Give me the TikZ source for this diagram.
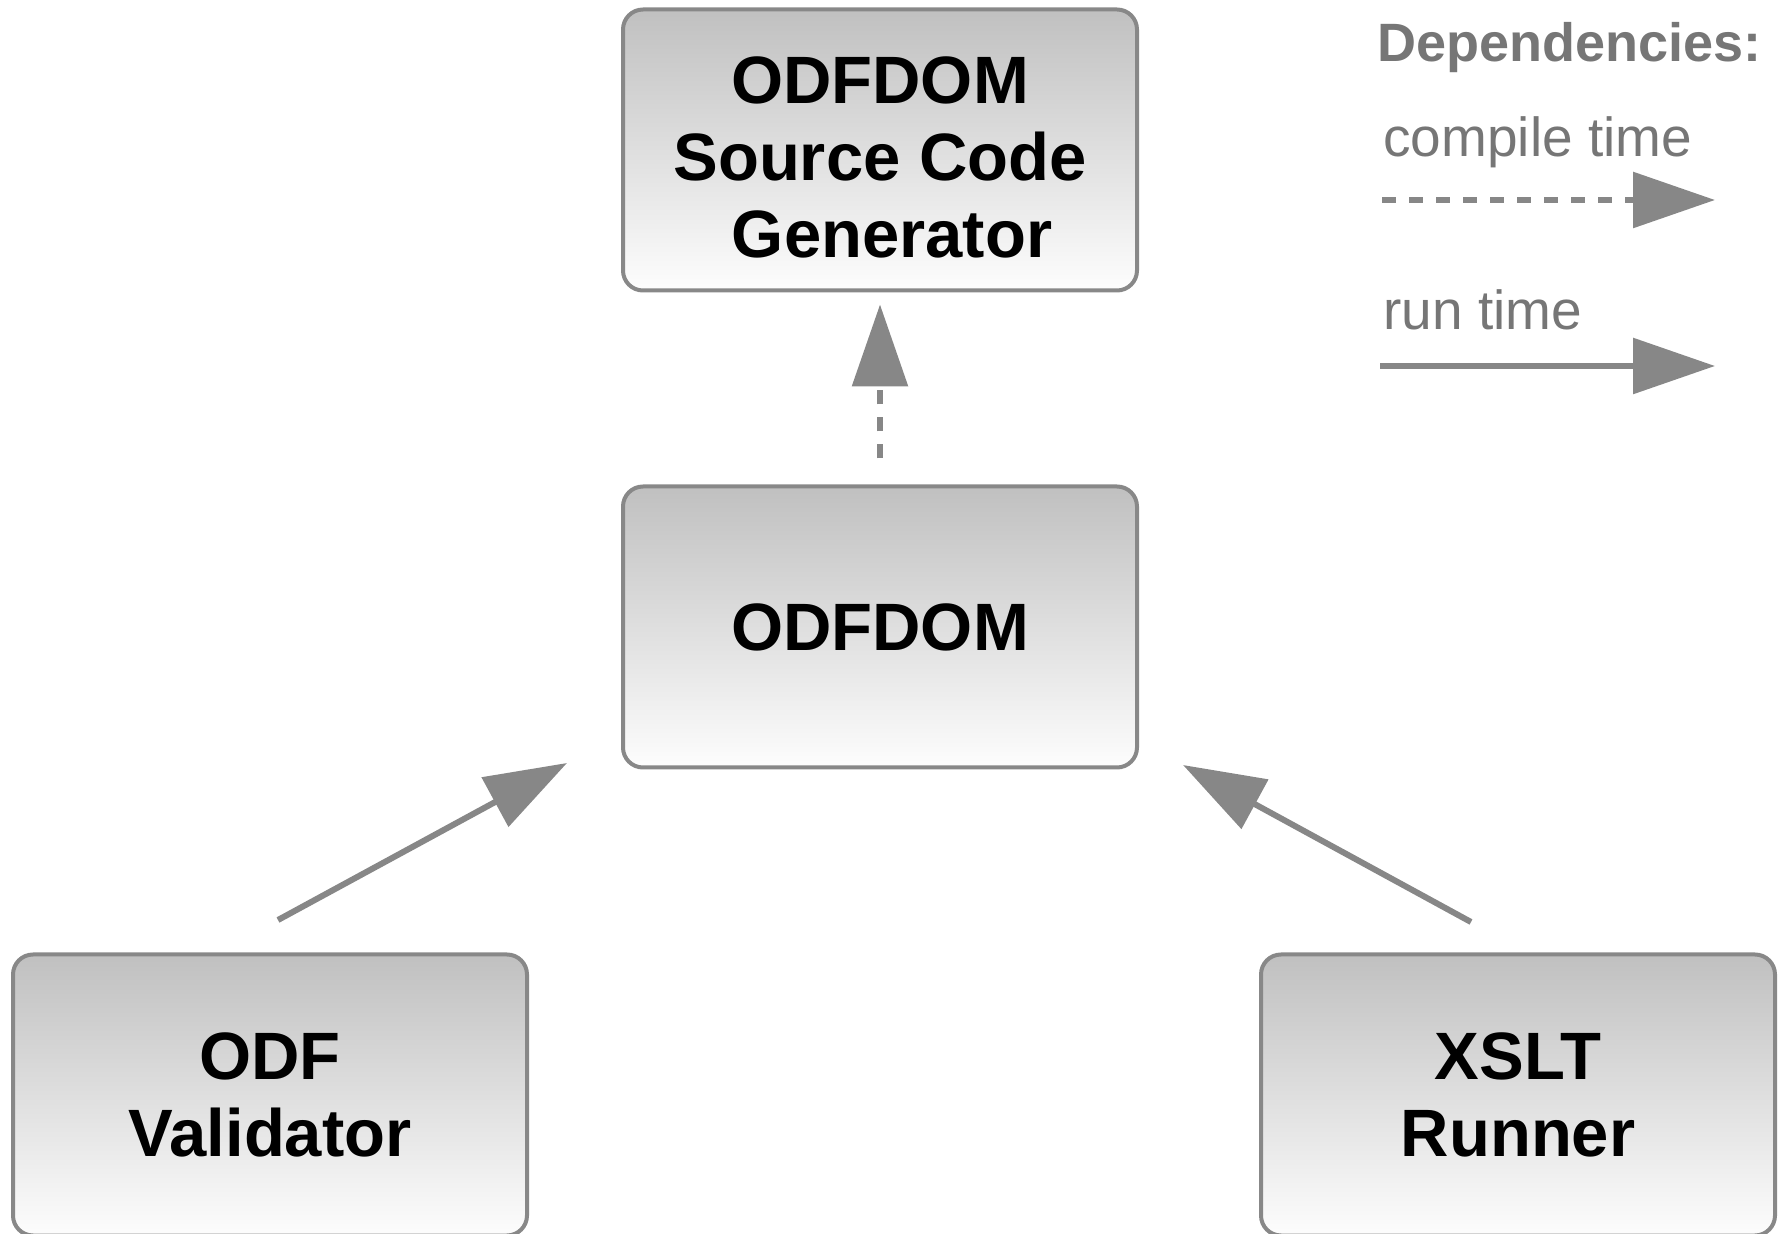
\documentclass[tikz,border=0pt]{standalone}
\usepackage{fontspec}
\setmainfont{Liberation Sans}
\usetikzlibrary{arrows.meta,shadings}
\definecolor{boxtop}{RGB}{192,192,192}
\definecolor{boxbot}{RGB}{253,253,253}
\definecolor{edgecol}{RGB}{136,136,136}
\definecolor{arrcol}{RGB}{135,135,135}
\definecolor{legtext}{RGB}{118,118,118}
\begin{document}
\begin{tikzpicture}[x=0.5pt,y=-0.5pt,
  box/.style={draw=edgecol, line width=2pt, rounded corners=10pt,
    top color=boxtop, bottom color=boxbot,
    minimum width=257pt, minimum height=140.5pt, align=center, inner sep=0pt,
    font=\bfseries\fontsize{33.5}{38.5}\selectfont},
  dep/.style={draw=arrcol, line width=3pt, -{Triangle[length=41pt,width=27.5pt]}},
  ctdep/.style={dep, dash pattern=on 7pt off 6.5pt},
  leg/.style={text=legtext, anchor=base west, inner sep=0pt,
    font=\fontsize{27.5}{33}\selectfont}]
\useasboundingbox (0,0) rectangle (1779,1234);
% boxes
\node[box] (gen)  at (880,150)  {\rule{0pt}{31pt}ODFDOM\\Source Code\\\hspace*{12pt}Generator};
\node[box] (dom)  at (880,627)  {ODFDOM};
\node[box] (val)  at (270,1095) {ODF\\Validator};
\node[box] (xslt) at (1518,1095) {XSLT\\Runner};
% dependencies
\draw[ctdep, shorten <=13pt, shorten >=6pt] (dom.north) -- (gen.south);
\coordinate (l1) at (278,920);
\coordinate (l2) at (567,763);
\coordinate (r1) at (1471,922);
\coordinate (r2) at (1183,765);
\draw[dep] (l1) -- (l2);
\draw[dep] (r1) -- (r2);
% legend
\node[leg, font=\bfseries\fontsize{27}{32}\selectfont] (hdr) at (1377,62) {Dependencies:};
\node[leg] (ctl) at (1383,157) {compile time};
\node[leg] (rtl) at (1383,330) {run time};
\coordinate (c1) at (1382,200);
\coordinate (c2) at (1715,200);
\coordinate (q1) at (1380,366);
\coordinate (q2) at (1715,366);
\draw[ctdep] (c1) -- (c2);
\draw[dep] (q1) -- (q2);
\end{tikzpicture}
\end{document}
